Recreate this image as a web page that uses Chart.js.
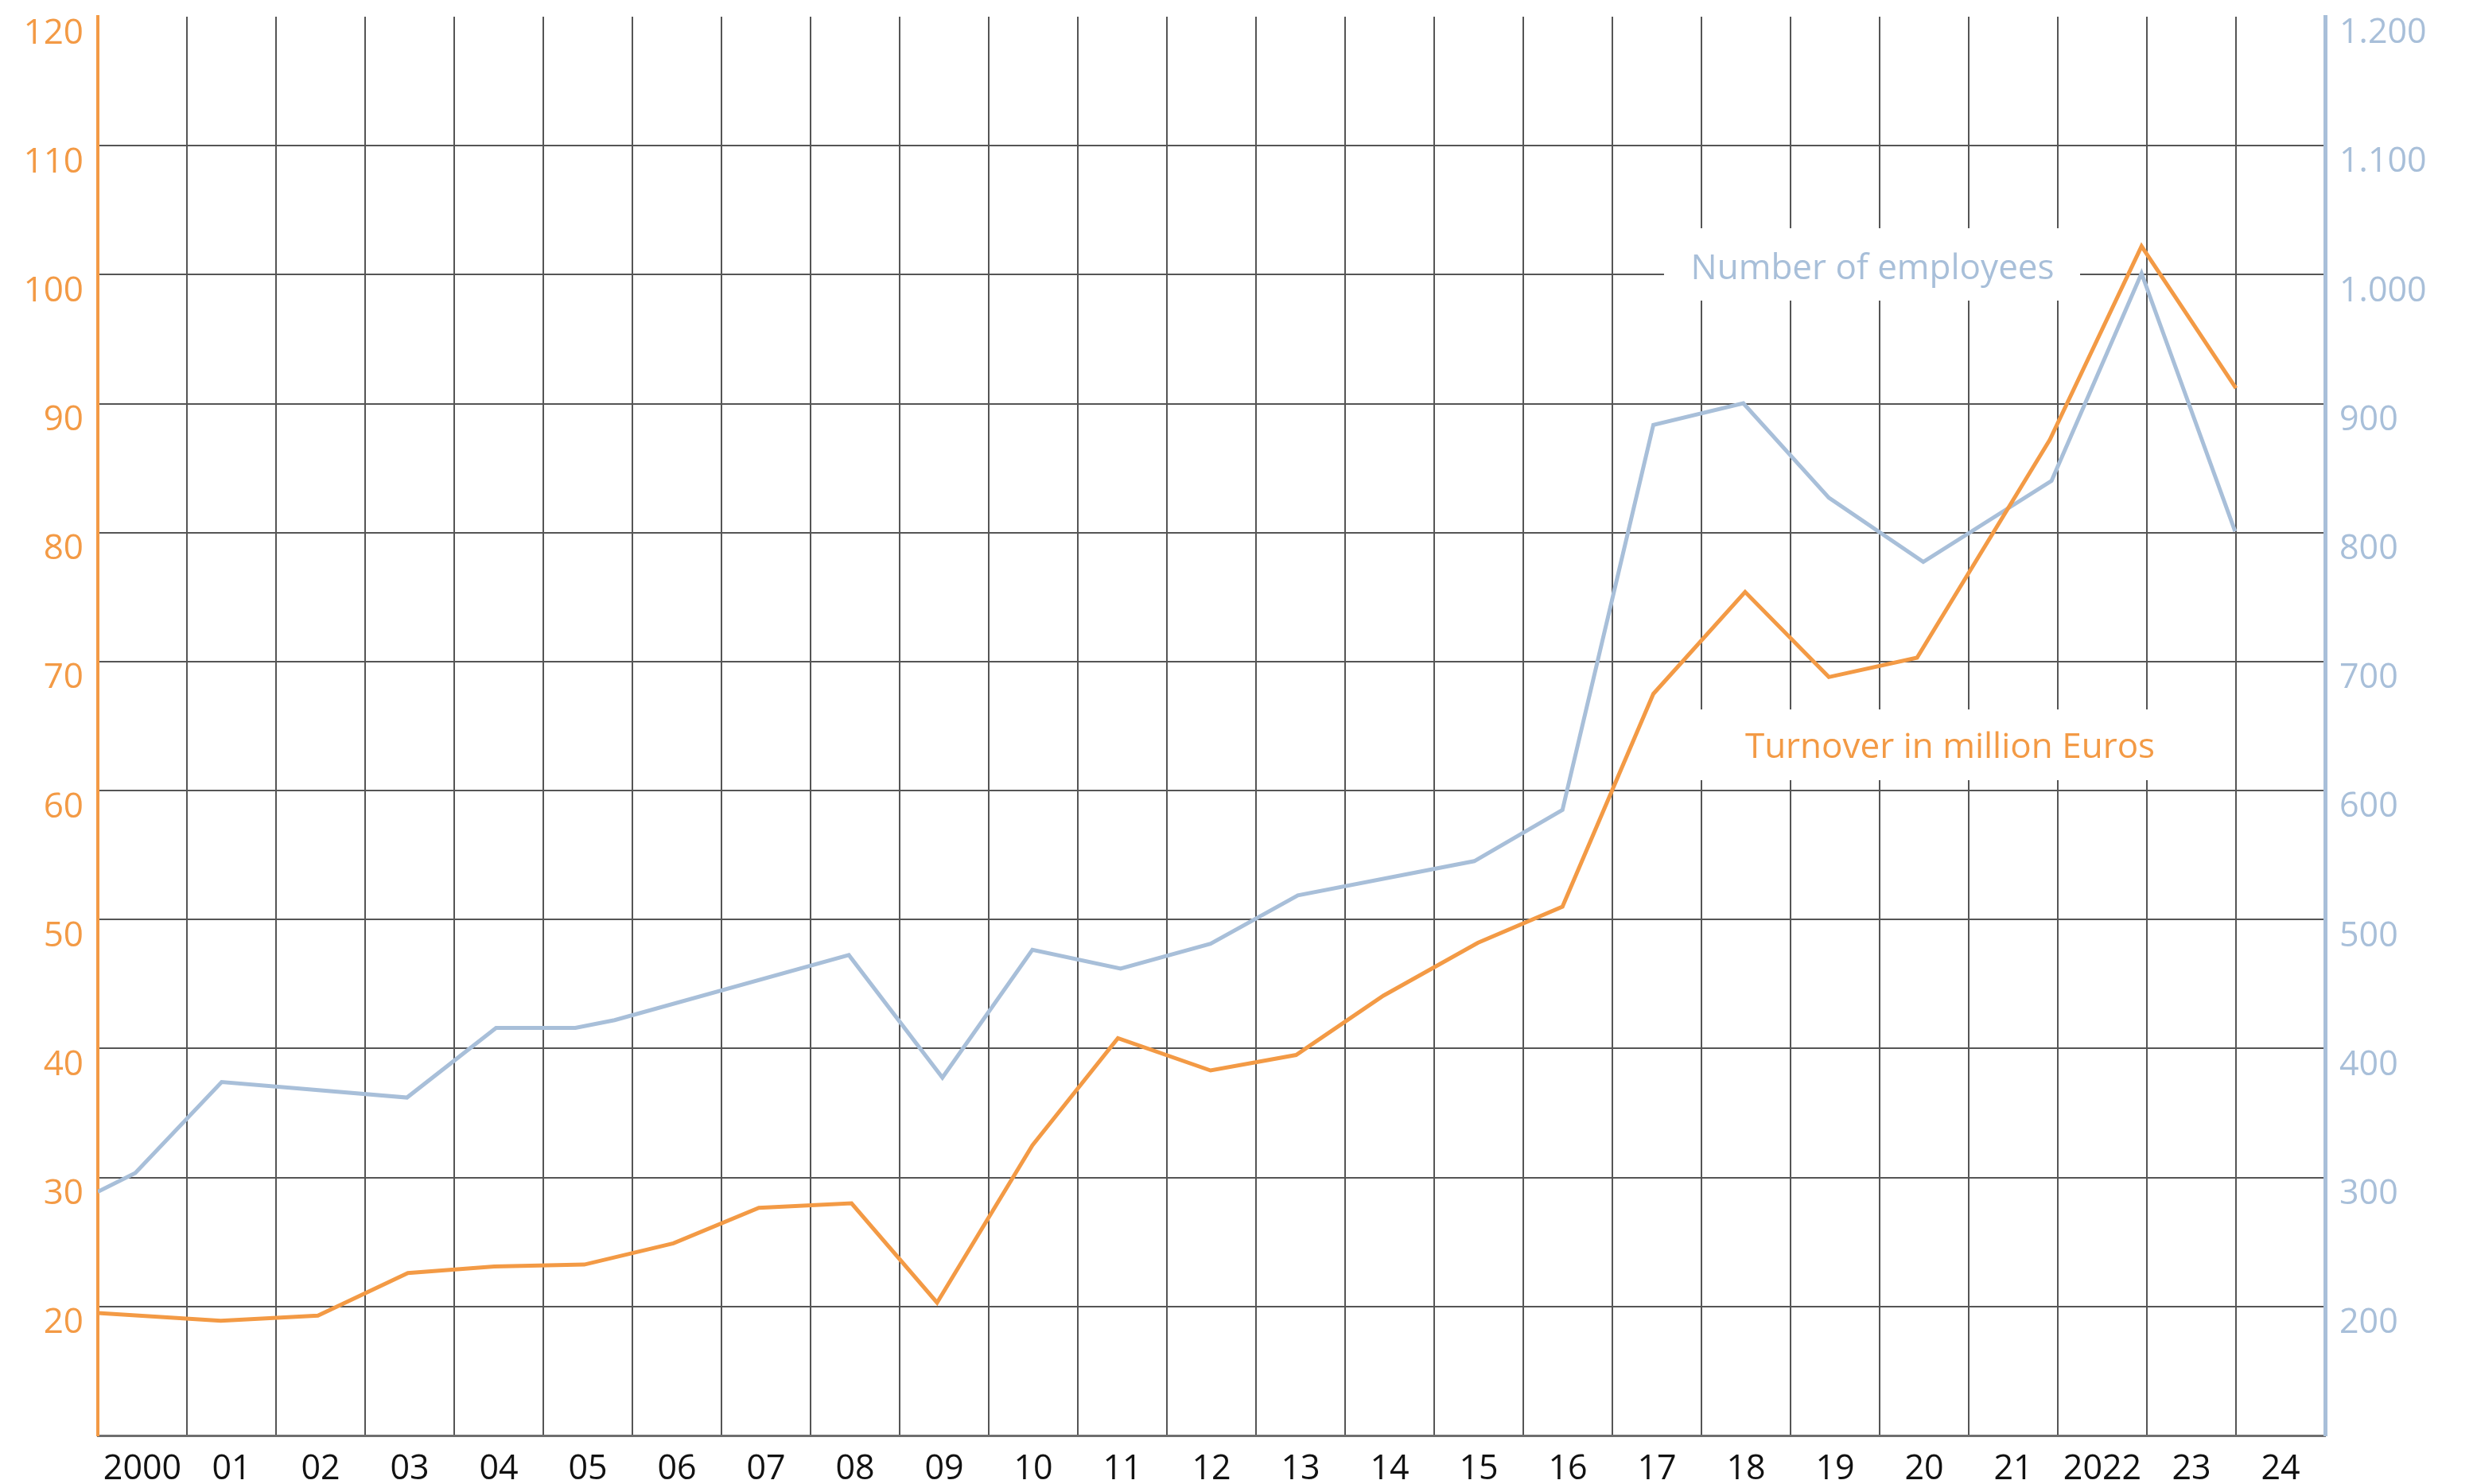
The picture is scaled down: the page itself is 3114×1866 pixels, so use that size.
<!DOCTYPE html>
<html>
<head>
<meta charset="utf-8">
<title>Turnover and employees</title>
<script src="https://cdn.jsdelivr.net/npm/chart.js@4.4.1/dist/chart.umd.min.js"></script>
<style>
  html, body { margin: 0; padding: 0; background: #fff; }
  canvas { display: block; }
</style>
</head>
<body>
<canvas id="myChart" width="3114" height="1866"></canvas>
<script>
// x axis labels, one per year cell (2000 .. 2024)
const yearLabels = ['2000', '01', '02', '03', '04', '05', '06', '07', '08', '09', '10', '11', '12',
                    '13', '14', '15', '16', '17', '18', '19', '20', '21', '2022', '23', '24'];

// turnover in million Euros (left axis)
const turnoverYears = [2000.00, 2001.38, 2002.47, 2003.48, 2004.45, 2005.46, 2006.46, 2007.42, 2008.46,
                       2009.42, 2010.49, 2011.45, 2012.49, 2013.45, 2014.43, 2015.49, 2016.44, 2017.46,
                       2018.49, 2019.43, 2020.42, 2021.91, 2022.94, 2024.00];
const turnoverValues = [19.5, 18.9, 19.3, 22.6, 23.1, 23.25, 24.9, 27.65, 28.0,
                        20.3, 32.5, 40.8, 38.3, 39.5, 44.1, 48.2, 51.0, 67.5,
                        75.4, 68.8, 70.3, 87.2, 102.2, 91.2];

// number of employees (right axis)
const employeeYears = [2000.00, 2000.42, 2001.39, 2003.47, 2004.47, 2005.36, 2005.80, 2008.43, 2009.48,
                       2010.49, 2011.48, 2012.49, 2013.47, 2015.45, 2016.44, 2017.46, 2018.47, 2019.43,
                       2020.49, 2021.93, 2022.94, 2023.99];
const employeeValues = [289, 303.5, 374, 362, 416, 416, 422, 472.5, 377.5,
                        476.6, 462, 481.3, 518.8, 545.3, 585, 883.5, 900.3, 827,
                        777.3, 840.2, 1001, 801];

const orange = '#F39A45';
const blue = '#A8BFD9';
const gridGray = '#555555';
const none = 'rgba(0,0,0,0)';

// series captions with white boxes behind them (year / left-axis units)
const notes = [
    { text: 'Number of employees', color: blue, x: 2019.92, y: 99.68, box: [2017.58, 103.6, 2022.25, 97.99] },
    { text: 'Turnover in million Euros', color: orange, x: 2020.79, y: 62.55, box: [2017.65, 66.29, 2023.54, 60.81] }
];

const notesPlugin = {
    id: 'notes',
    beforeDatasetsDraw(chart) {
        const ctx = chart.ctx;
        const xs = chart.scales.x, ys = chart.scales.y;
        ctx.save();
        notes.forEach(n => {
            let left = xs.getPixelForValue(n.box[0]), right = xs.getPixelForValue(n.box[2]);
            let top = ys.getPixelForValue(n.box[1]), bottom = ys.getPixelForValue(n.box[3]);
            ctx.fillStyle = '#fff';
            ctx.fillRect(left, top, right - left, bottom - top);
            ctx.fillStyle = n.color;
            ctx.font = '44px "Open Sans"';
            ctx.textAlign = 'center';
            ctx.textBaseline = 'alphabetic';
            ctx.fillText(n.text, xs.getPixelForValue(n.x), ys.getPixelForValue(n.y));
        });
        ctx.restore();
    }
};

function thousands(v) {
    return v >= 1000 ? Math.floor(v / 1000) + '.' + String(v % 1000).padStart(3, '0') : String(v);
}

// fixed axis sizes, no extra label padding around the plot area
function fixWidth(w) {
    return s => { s.width = w; s.paddingTop = 0; s.paddingBottom = 0; };
}

function draw() {
    Chart.defaults.font.family = '"Open Sans", sans-serif';
    let ctx = document.getElementById('myChart');
    new Chart(ctx, {
        type: 'line',
        data: {
            datasets: [{
                label: 'Turnover in million Euros',
                data: turnoverYears.map((x, i) => ({ x: x, y: turnoverValues[i] })),
                borderColor: orange,
                borderWidth: 5,
                pointRadius: 0,
                yAxisID: 'y'
            }, {
                label: 'Number of employees',
                data: employeeYears.map((x, i) => ({ x: x, y: employeeValues[i] })),
                borderColor: blue,
                borderWidth: 5,
                pointRadius: 0,
                yAxisID: 'y1'
            }]
        },
        options: {
            responsive: false,
            devicePixelRatio: 1,
            animation: false,
            layout: { padding: { top: 21, left: 0, right: 0, bottom: 0 } },
            plugins: { legend: { display: false }, tooltip: { enabled: false } },
            scales: {
                x: {
                    type: 'linear',
                    min: 2000,
                    max: 2025,
                    afterFit: s => { s.height = 61; s.paddingLeft = 0; s.paddingRight = 0; },
                    grid: {
                        color: c => (c.tick && (c.tick.value === 2000 || c.tick.value === 2025)) ? none : gridGray,
                        lineWidth: 2,
                        drawTicks: false
                    },
                    border: { color: '#6e6e6e', width: 3 },
                    ticks: {
                        stepSize: 1,
                        autoSkip: false,
                        maxRotation: 0,
                        labelOffset: 56,
                        padding: 21,
                        color: '#111',
                        font: { size: 43, lineHeight: 1 },
                        callback: v => yearLabels[v - 2000] || ''
                    }
                },
                y: {
                    position: 'left',
                    min: 10,
                    max: 120,
                    afterFit: fixWidth(123),
                    grid: {
                        color: c => (c.tick && (c.tick.value === 10 || c.tick.value === 120)) ? none : gridGray,
                        lineWidth: 2,
                        drawTicks: false
                    },
                    border: { color: orange, width: 4 },
                    ticks: {
                        stepSize: 10,
                        labelOffset: 21,
                        padding: 18,
                        color: orange,
                        font: { size: 44, lineHeight: 1 },
                        callback: v => v === 10 ? '' : String(v)
                    }
                },
                y1: {
                    position: 'right',
                    min: 100,
                    max: 1200,
                    afterFit: fixWidth(191),
                    grid: { display: false, drawTicks: false },
                    border: { color: blue, width: 5 },
                    ticks: {
                        stepSize: 100,
                        labelOffset: 21,
                        padding: 18,
                        color: blue,
                        font: { size: 43, lineHeight: 1 },
                        callback: v => v === 100 ? '' : thousands(v)
                    }
                }
            }
        },
        plugins: [notesPlugin]
    });
}

if (document.fonts && document.fonts.load) {
    document.fonts.load('43px "Open Sans"').then(draw, draw);
} else {
    draw();
}
</script>
</body>
</html>
